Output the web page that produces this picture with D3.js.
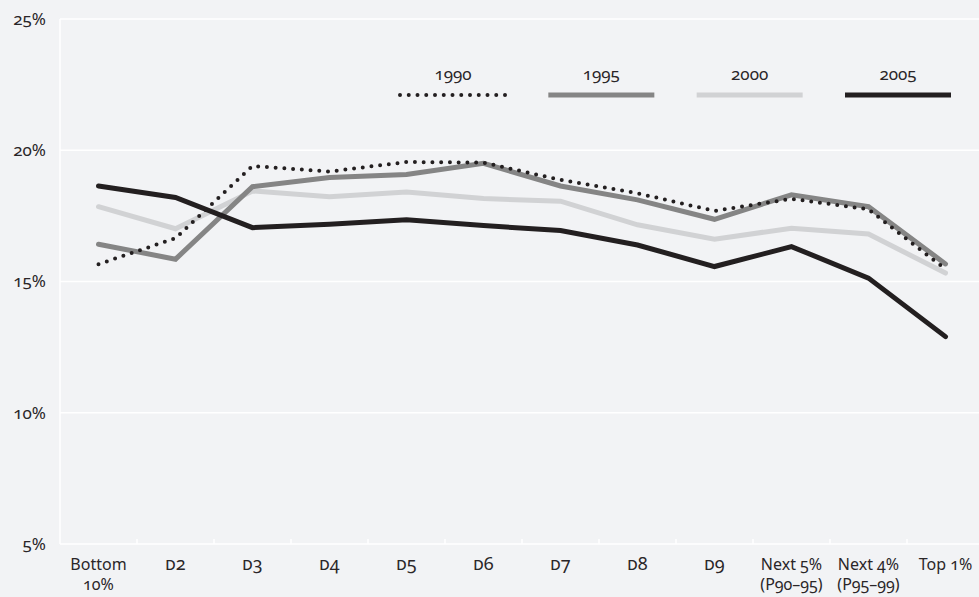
<!DOCTYPE html>
<html>
<head>
<meta charset="utf-8">
<script src="https://cdn.jsdelivr.net/npm/d3@7"></script>
<style>
  body { margin: 0; background: #f2f3f5; }
  svg text { font-family: "Noto Sans", sans-serif; fill: #2a2628; font-variant-numeric: oldstyle-nums; }
</style>
</head>
<body>
<div id="chart"></div>
<script>
// categories and tick labels
let categories = ["Bottom 10%", "D2", "D3", "D4", "D5", "D6", "D7", "D8", "D9", "Next 5%", "Next 4%", "Top 1%"]
let categoryLines = [["Bottom", "10%"], ["D2"], ["D3"], ["D4"], ["D5"], ["D6"], ["D7"], ["D8"], ["D9"],
  ["Next 5%", "(P90–95)"], ["Next 4%", "(P95–99)"], ["Top 1%"]]
let yTicks = [5, 10, 15, 20, 25]

// series values (percent)
let years = ["1990", "1995", "2000", "2005"]
let v1990 = [15.66, 16.65, 19.40, 19.19, 19.55, 19.53, 18.87, 18.36, 17.69, 18.15, 17.75, 15.47]
let v1995 = [16.42, 15.85, 18.61, 18.96, 19.08, 19.50, 18.64, 18.11, 17.37, 18.30, 17.85, 15.67]
let v2000 = [17.85, 17.01, 18.45, 18.23, 18.41, 18.16, 18.06, 17.16, 16.61, 17.03, 16.81, 15.32]
let v2005 = [18.64, 18.20, 17.05, 17.18, 17.35, 17.13, 16.94, 16.39, 15.57, 16.33, 15.13, 12.90]

let svgWidth = 979
let svgHeight = 597
let margin = { top: 19, right: -5, bottom: 53, left: 60 }
let width = svgWidth - margin.left - margin.right
let height = svgHeight - margin.top - margin.bottom

let svg = d3.select("#chart").append("svg").attr("width", svgWidth).attr("height", svgHeight)
let chartGroup = svg.append("g").attr("transform", `translate(${margin.left}, ${margin.top})`)

let x = d3.scaleBand().domain(categories).range([0, width])
let y = d3.scaleLinear().domain([5, 25]).range([height, 0])

// gridlines
chartGroup.selectAll(".grid").data(yTicks).enter().append("line")
  .attr("x1", 0).attr("x2", width)
  .attr("y1", d => y(d)).attr("y2", d => y(d))
  .attr("stroke", "#ffffff").attr("stroke-width", 1.5)
chartGroup.append("line").attr("x1", 0).attr("x2", 0).attr("y1", 0).attr("y2", height)
  .attr("stroke", "#ffffff").attr("stroke-width", 1.5)

// x ticks at band boundaries
chartGroup.selectAll(".xtick").data(categories.slice(1)).enter().append("line")
  .attr("x1", d => x(d)).attr("x2", d => x(d))
  .attr("y1", height).attr("y2", height - 5)
  .attr("stroke", "#ffffff").attr("stroke-width", 1.5)

// y labels
chartGroup.selectAll(".ylab").data(yTicks).enter().append("text")
  .attr("x", -14).attr("y", d => y(d)).attr("dy", "0.35em")
  .attr("text-anchor", "end").attr("font-size", 17)
  .text(d => d + "%")

// x labels
categories.forEach((c, i) => {
  let t = chartGroup.append("text")
    .attr("x", x(c) + x.bandwidth() / 2).attr("y", height + 26)
    .attr("text-anchor", "middle").attr("font-size", 16)
  categoryLines[i].forEach((line, j) => {
    let ts = t.append("tspan").attr("x", x(c) + x.bandwidth() / 2).attr("dy", j === 0 ? 0 : 20).text(line)
    if (/^D\d$/.test(line)) ts.style("font-variant-caps", "all-small-caps").attr("font-size", 18)
  })
})

let styles = {
  "1990": { color: "#231f20", width: 4, dash: "0 8.75" },
  "1995": { color: "#858585", width: 5, dash: null },
  "2000": { color: "#d1d2d4", width: 5, dash: null },
  "2005": { color: "#231f20", width: 5, dash: null }
}
let seriesData = { "1990": v1990, "1995": v1995, "2000": v2000, "2005": v2005 }

let line = d3.line()
  .x((d, i) => x(categories[i]) + x.bandwidth() / 2)
  .y(d => y(d))

let drawOrder = ["2000", "1995", "2005", "1990"]
drawOrder.forEach(yr => {
  let s = styles[yr]
  chartGroup.append("path")
    .attr("d", line(seriesData[yr]))
    .attr("fill", "none")
    .attr("stroke", s.color)
    .attr("stroke-width", s.width)
    .attr("stroke-linecap", "round")
    .attr("stroke-dasharray", s.dash)
})

// legend
let legendX = d3.scalePoint().domain(years).range([340, 785])
years.forEach(yr => {
  let s = styles[yr]
  let lx = legendX(yr)
  chartGroup.append("line")
    .attr("x1", lx).attr("x2", lx + 106)
    .attr("y1", 76).attr("y2", 76)
    .attr("stroke", s.color).attr("stroke-width", s.width)
    .attr("stroke-linecap", s.dash ? "round" : "butt")
    .attr("stroke-dasharray", s.dash)
  chartGroup.append("text")
    .attr("x", lx + 53).attr("y", 61)
    .attr("text-anchor", "middle").attr("font-size", 17)
    .text(yr)
})
</script>
</body>
</html>
